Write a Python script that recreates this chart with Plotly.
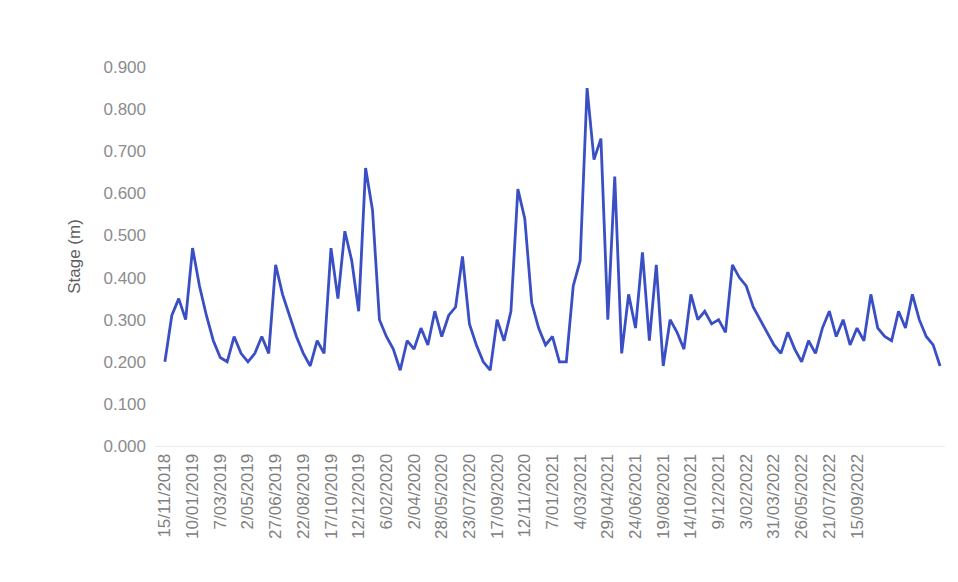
import pandas as pd
import plotly.graph_objects as go

# Fortnightly river stage readings (m)
start_date = "2018-11-15"
stage_m = [
    0.20, 0.31, 0.35, 0.30, 0.47, 0.38, 0.31, 0.25, 0.21, 0.20,
    0.26, 0.22, 0.20, 0.22, 0.26, 0.22, 0.43, 0.36, 0.31, 0.26,
    0.22, 0.19, 0.25, 0.22, 0.47, 0.35, 0.51, 0.44, 0.32, 0.66,
    0.56, 0.30, 0.26, 0.23, 0.18, 0.25, 0.23, 0.28, 0.24, 0.32,
    0.26, 0.31, 0.33, 0.45, 0.29, 0.24, 0.20, 0.18, 0.30, 0.25,
    0.32, 0.61, 0.54, 0.34, 0.28, 0.24, 0.26, 0.20, 0.20, 0.38,
    0.44, 0.85, 0.68, 0.73, 0.30, 0.64, 0.22, 0.36, 0.28, 0.46,
    0.25, 0.43, 0.19, 0.30, 0.27, 0.23, 0.36, 0.30, 0.32, 0.29,
    0.30, 0.27, 0.43, 0.40, 0.38, 0.33, 0.30, 0.27, 0.24, 0.22,
    0.27, 0.23, 0.20, 0.25, 0.22, 0.28, 0.32, 0.26, 0.30, 0.24,
    0.28, 0.25, 0.36, 0.28, 0.26, 0.25, 0.32, 0.28, 0.36, 0.30,
    0.26, 0.24, 0.19,
]
sample_days = 14
label_every = 4   # one date label per 4 readings (8 weeks)
label_count = 26  # number of date labels shown on the axis

dates = pd.date_range(start_date, periods=len(stage_m), freq=f"{sample_days}D")
tick_dates = list(dates[::label_every])[:label_count]
tick_labels = [f"{d.day}/{d.month:02d}/{d.year}" for d in tick_dates]

y_ticks = [0.0, 0.1, 0.2, 0.3, 0.4, 0.5, 0.6, 0.7, 0.8, 0.9]

fig = go.Figure()
fig.add_trace(go.Scatter(
    x=dates, y=stage_m, mode="lines",
    line=dict(color="#3A4FC4", width=2.8),
    showlegend=False,
))

x_start = dates[0] - pd.Timedelta(days=20)
x_end = dates[-1] + pd.Timedelta(days=10)

fig.update_layout(
    width=958, height=582,
    margin=dict(l=147, r=21, t=59, b=144),
    paper_bgcolor="white", plot_bgcolor="white",
    font=dict(family="Liberation Sans, Arial, sans-serif", color="#7f7f7f", size=17),
    xaxis=dict(
        range=[x_start, x_end], tickvals=tick_dates, ticktext=tick_labels,
        tickangle=-90, showgrid=False, zeroline=False,
        showline=True, linecolor="#ececec", ticks="",
        tickfont=dict(size=17, color="#808080"),
    ),
    yaxis=dict(
        range=[0, 0.9], tickvals=y_ticks, tickformat=".3f",
        showgrid=False, zeroline=False, showline=False, ticks="",
        ticklabelstandoff=8,
        tickfont=dict(size=17, color="#8c8c8c"),
        title=dict(text="Stage (m)", font=dict(size=17, color="#5f5f5f"), standoff=18),
    ),
)

fig.write_html("out.html")
